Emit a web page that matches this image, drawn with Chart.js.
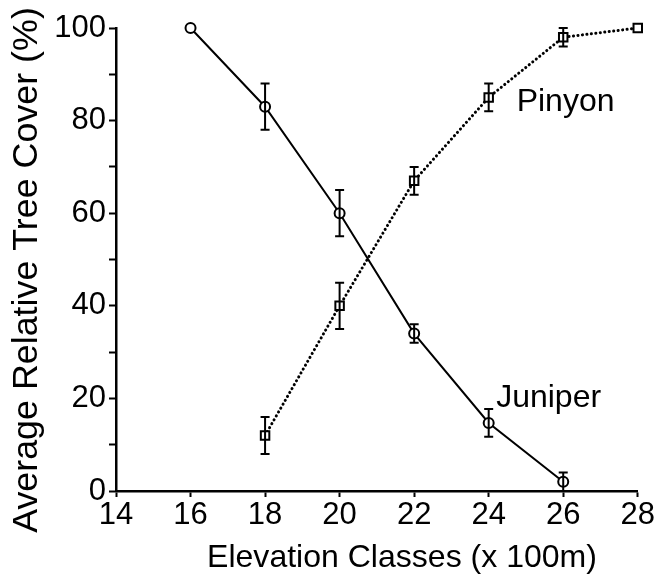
<!DOCTYPE html>
<html><head><meta charset="utf-8">
<script src="https://cdn.jsdelivr.net/npm/chart.js@4"></script>
<style>html,body{margin:0;padding:0;background:#fff}#wrap{width:655px;height:577px}</style>
</head><body><div id="wrap"><canvas id="c" width="655" height="577"></canvas></div>
<script>
const juniperX = [16, 18, 20, 22, 24, 26];
const juniper = [100, 83, 60, 34, 14.7, 2];
const juniperErr = [0, 5, 5, 2, 3, 2];
const pinyonX = [18, 20, 22, 24, 26, 28];
const pinyon = [12, 40, 67, 85, 98, 100];
const pinyonErr = [4, 5, 3, 3, 2, 0];
const xTicks = [14, 16, 18, 20, 22, 24, 26, 28];
const yTicks = [0, 20, 40, 60, 80, 100];
const seriesLabels = [{text: 'Pinyon', x: 24.75, y: 84}, {text: 'Juniper', x: 24.2, y: 20}];
const xTitle = 'Elevation Classes (x 100m)';
const yTitle = 'Average Relative Tree Cover (%)';

const FONT = "'Liberation Sans', Arial, sans-serif";

function fitFont(ctx, text, width) {
  ctx.font = "40px " + FONT;
  const w = ctx.measureText(text).width;
  return 40 * width / w;
}

const errorBars = {
  id: 'errorBars',
  afterDatasetsDraw(chart) {
    const {ctx, scales: {x, y}} = chart;
    ctx.save();
    ctx.strokeStyle = '#000';
    ctx.lineWidth = 2;
    const sets = [[juniperX, juniper, juniperErr], [pinyonX, pinyon, pinyonErr]];
    sets.forEach(([xs, vs, es]) => {
      xs.forEach((xv, i) => {
        if (!es[i]) return;
        const px = x.getPixelForValue(xv);
        const top = y.getPixelForValue(Math.min(100, vs[i] + es[i]));
        const bot = y.getPixelForValue(Math.max(0, vs[i] - es[i]));
        ctx.beginPath();
        ctx.moveTo(px, top); ctx.lineTo(px, bot);
        ctx.moveTo(px - 4.5, top); ctx.lineTo(px + 4.5, top);
        ctx.moveTo(px - 4.5, bot); ctx.lineTo(px + 4.5, bot);
        ctx.stroke();
      });
    });
    ctx.fillStyle = '#000';
    ctx.font = "32px " + FONT;
    ctx.textBaseline = 'middle';
    ctx.textAlign = 'left';
    seriesLabels.forEach(l => {
      ctx.fillText(l.text, x.getPixelForValue(l.x), y.getPixelForValue(l.y));
    });
    // axis titles
    ctx.textAlign = 'center';
    ctx.textBaseline = 'alphabetic';
    const xs = fitFont(ctx, xTitle, 390);
    ctx.font = xs + "px " + FONT;
    ctx.fillText(xTitle, 402, 567);
    const ys = fitFont(ctx, yTitle, 526);
    ctx.font = ys + "px " + FONT;
    ctx.translate(37, 270);
    ctx.rotate(-Math.PI / 2);
    ctx.fillText(yTitle, 0, 0);
    ctx.restore();
  }
};

new Chart(document.getElementById('c'), {
  type: 'scatter',
  data: {
    datasets: [
      {
        label: 'Juniper',
        data: juniperX.map((xv, i) => ({x: xv, y: juniper[i]})),
        showLine: true,
        clip: false,
        borderColor: '#000',
        borderWidth: 2,
        pointStyle: 'circle',
        pointRadius: 5,
        pointBorderWidth: 2,
        pointBackgroundColor: '#fff',
        pointBorderColor: '#000'
      },
      {
        label: 'Pinyon',
        data: pinyonX.map((xv, i) => ({x: xv, y: pinyon[i]})),
        showLine: true,
        clip: false,
        borderColor: '#000',
        borderWidth: 3,
        borderCapStyle: 'round',
        borderDash: [0.1, 4.4],
        pointStyle: 'rect',
        pointRadius: 6,
        pointBorderWidth: 2,
        pointBackgroundColor: '#fff',
        pointBorderColor: '#000'
      }
    ]
  },
  options: {
    responsive: false,
    animation: false,
    layout: {padding: {top: 28, right: 17, left: 0, bottom: 0}},
    plugins: {legend: {display: false}, tooltip: {enabled: false}},
    scales: {
      x: {
        type: 'linear', min: 14, max: 28,
        afterBuildTicks(s) { s.ticks = xTicks.map(v => ({value: v})); },
        afterFit(s) { s.height = 86; },
        border: {color: '#000', width: 2.5},
        grid: {display: true, drawOnChartArea: false, drawTicks: true, tickLength: 6, color: '#000', tickWidth: 2},
        ticks: {color: '#000', font: {family: FONT, size: 31}, padding: 0},
        title: {display: false}
      },
      y: {
        type: 'linear', min: 0, max: 100,
        afterBuildTicks(s) {
          const t = [];
          for (let v = 0; v <= 100; v += 10) t.push({value: v});
          s.ticks = t;
        },
        afterFit(s) { s.width = 116; },
        border: {color: '#000', width: 2.5},
        grid: {display: true, drawOnChartArea: false, drawTicks: true, tickLength: 7, color: '#000', tickWidth: 2},
        ticks: {color: '#000', font: {family: FONT, size: 31}, padding: 3,
          callback: v => yTicks.includes(v) ? String(v) : ''},
        title: {display: false}
      }
    }
  },
  plugins: [errorBars]
});
</script>
</body></html>
